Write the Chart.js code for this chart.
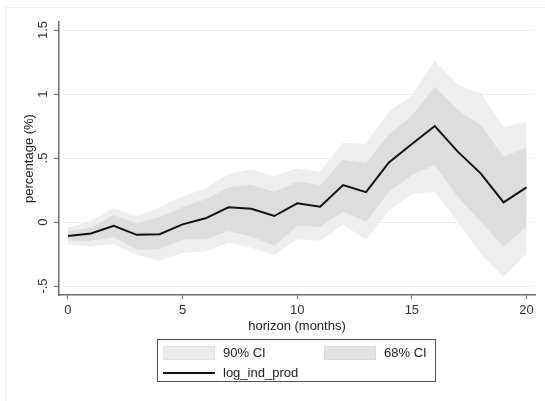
<!DOCTYPE html>
<html>
<head>
<meta charset="utf-8">
<script src="https://cdn.jsdelivr.net/npm/chart.js@4/dist/chart.umd.min.js"></script>
<style>
  html, body { margin: 0; padding: 0; background: #fff; }
  #wrap { position: relative; width: 545px; height: 401px; overflow: hidden; font-family: "Liberation Sans", Arial, sans-serif; }
  #frame { position: absolute; left: 5px; top: 7px; width: 560px; height: 420px; border: 1px solid #f1f1f1; }
  #chart { position: absolute; left: 0; top: 0; }
  #legend { position: absolute; left: 157px; top: 339px; width: 279px; height: 43px; border: 1px solid #555; box-sizing: border-box; font-size: 13px; color: #222; }
  .sw { position: absolute; width: 52px; height: 14px; box-sizing: border-box; }
  .lbl { position: absolute; line-height: 15px; white-space: nowrap; }
  .ln { position: absolute; width: 52px; height: 2px; background: #111; }
</style>
</head>
<body>
<div id="wrap">
  <div id="frame"></div>
  <canvas id="chart" width="545" height="401"></canvas>
  <div id="legend"></div>
</div>
<script>
// Impulse response of industrial production with 68% / 90% confidence bands
const horizon = [0, 1, 2, 3, 4, 5, 6, 7, 8, 9, 10, 11, 12, 13, 14, 15, 16, 17, 18, 19, 20];
const logIndProd = [-0.11, -0.09, -0.03, -0.10, -0.095, -0.018, 0.029, 0.115, 0.104, 0.047, 0.146, 0.12, 0.289, 0.233, 0.466, 0.609, 0.75, 0.55, 0.38, 0.154, 0.27];
const ci90Upper = [-0.045, 0.008, 0.107, 0.047, 0.115, 0.2, 0.263, 0.375, 0.41, 0.36, 0.42, 0.393, 0.62, 0.61, 0.862, 0.99, 1.26, 1.07, 1.005, 0.74, 0.784];
const ci90Lower = [-0.174, -0.19, -0.174, -0.258, -0.302, -0.24, -0.232, -0.16, -0.2, -0.258, -0.135, -0.146, -0.023, -0.137, 0.094, 0.219, 0.237, 0.002, -0.245, -0.427, -0.245];
const ci68Upper = [-0.07, -0.044, 0.055, -0.01, 0.037, 0.117, 0.177, 0.271, 0.289, 0.237, 0.315, 0.289, 0.484, 0.461, 0.685, 0.828, 1.057, 0.875, 0.758, 0.51, 0.584];
const ci68Lower = [-0.146, -0.146, -0.115, -0.219, -0.213, -0.137, -0.135, -0.07, -0.115, -0.185, -0.031, -0.036, 0.08, 0.002, 0.237, 0.367, 0.445, 0.198, 0.002, -0.193, -0.036];

const xTickValues = [0, 5, 10, 15, 20];
const yTickValues = [-0.5, 0, 0.5, 1, 1.5];
const yTickLabels = ['-.5', '0', '.5', '1', '1.5'];
const legendLabels = ['90% CI', '68% CI', 'log_ind_prod'];

const col90 = '#eeeeee';
const col68 = '#dddddd';

const pts = arr => arr.map((v, i) => ({ x: horizon[i], y: v }));
const band = (label, data, color, fill, order) => ({
  label, data: pts(data), fill, backgroundColor: color,
  borderColor: 'rgba(0,0,0,0)', borderWidth: 0, pointRadius: 0, tension: 0, order
});

const font = { family: '"Liberation Sans", Arial, sans-serif', size: 13 };

new Chart(document.getElementById('chart'), {
  type: 'line',
  data: {
    datasets: [
      { label: legendLabels[2], data: pts(logIndProd), borderColor: '#111', borderWidth: 2,
        pointRadius: 0, tension: 0, fill: false, order: 0 },
      band('68u', ci68Upper, col68, '+1', 1),
      band('68l', ci68Lower, col68, false, 1),
      band('90u', ci90Upper, col90, '+1', 2),
      band('90l', ci90Lower, col90, false, 2)
    ]
  },
  options: {
    responsive: false,
    animation: false,
    layout: { padding: { left: 0, top: 22, right: 10, bottom: 67 } },
    plugins: { legend: { display: false }, tooltip: { enabled: false } },
    scales: {
      x: {
        type: 'linear', min: -0.39, max: 20.37,
        afterBuildTicks: s => { s.ticks = xTickValues.map(v => ({ value: v })); },
        afterFit: s => { s.height = 39; },
        grid: { drawOnChartArea: false, drawTicks: true, tickLength: 4, tickColor: '#777', tickWidth: 1.2 },
        border: { display: true, color: '#707070', width: 1.5 },
        ticks: { font, color: '#333', padding: 4, maxRotation: 0, autoSkip: false,
                 callback: v => String(v) },
        title: { display: true, text: 'horizon (months)', font, color: '#222', padding: { top: 0, bottom: 0 } }
      },
      y: {
        min: -0.57, max: 1.5625,
        afterBuildTicks: s => { s.ticks = yTickValues.map(v => ({ value: v })); },
        afterFit: s => { s.width = 59; },
        grid: { color: '#e6f0f1', lineWidth: 1, drawTicks: true, tickLength: 5, tickColor: '#777', tickWidth: 1.2 },
        border: { display: true, color: '#707070', width: 1.5 },
        ticks: { font, color: '#333', padding: 2, minRotation: 90, maxRotation: 90, crossAlign: 'center', autoSkip: false,
                 callback: v => yTickLabels[yTickValues.indexOf(v)] },
        title: { display: true, text: 'percentage (%)', font, color: '#222', padding: { top: 22, bottom: 0 } }
      }
    }
  }
});

// Legend box below the plot
const lg = document.getElementById('legend');
lg.innerHTML =
  '<div class="sw" style="left:5px;top:6px;background:#ececec;border:1px solid #e2e2e2"></div>' +
  '<div class="lbl" style="left:65px;top:5px">' + legendLabels[0] + '</div>' +
  '<div class="sw" style="left:166px;top:6px;background:#e3e3e3;border:1px solid #dadada"></div>' +
  '<div class="lbl" style="left:226px;top:5px">' + legendLabels[1] + '</div>' +
  '<div class="ln" style="left:5px;top:32px"></div>' +
  '<div class="lbl" style="left:65px;top:25px">' + legendLabels[2] + '</div>';
</script>
</body>
</html>
